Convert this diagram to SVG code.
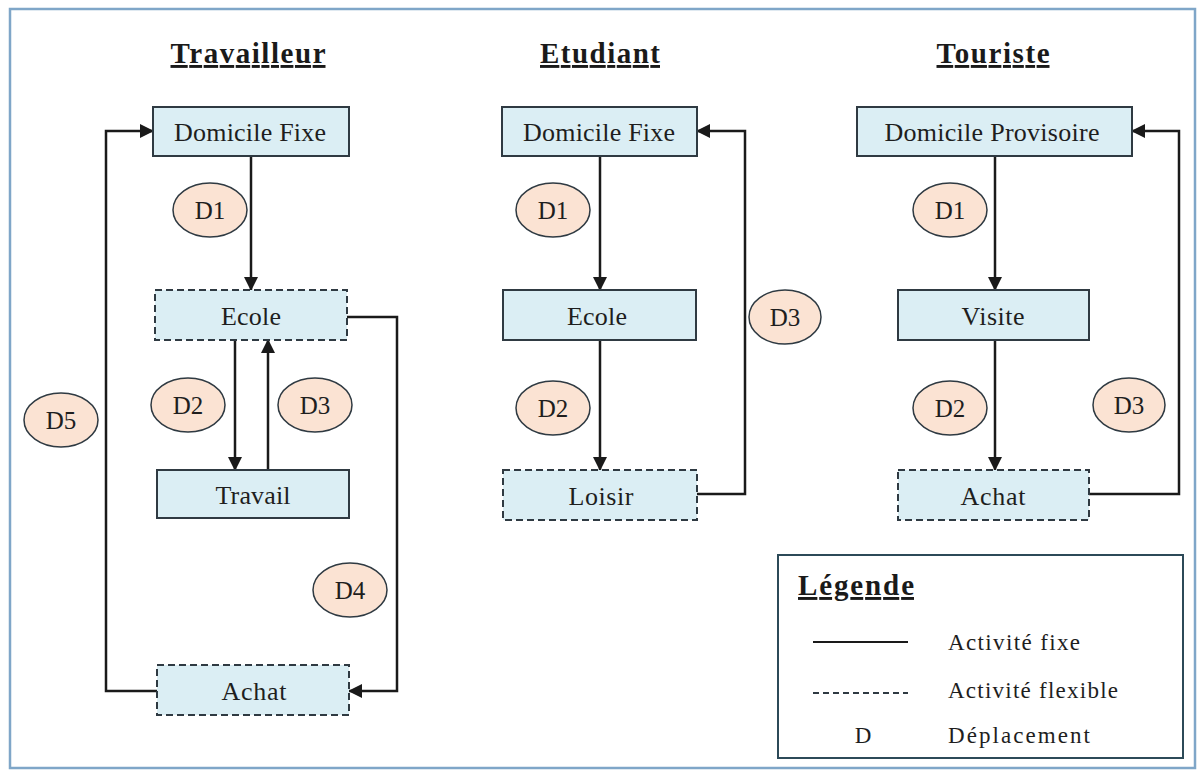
<svg xmlns="http://www.w3.org/2000/svg" width="1203" height="778" viewBox="0 0 1203 778">
<style>
.frame{fill:#ffffff;stroke:#7fa6c8;stroke-width:2.5}
.box{fill:#dbeef4;stroke:#2f3a42;stroke-width:2}
.flex{stroke-dasharray:7 4}
.ell{fill:#fbe3d3;stroke:#2f3a42;stroke-width:1.5}
text{font-family:'Liberation Serif','Times New Roman',Times,serif}
.t{font-size:26px;fill:#1e1e1e;text-anchor:middle}
.d{font-size:25px;fill:#1e1e1e;text-anchor:middle}
.title{font-size:29px;font-weight:bold;fill:#1a1a1a;text-anchor:middle;text-decoration:underline}
.lg{font-size:23px;fill:#1e1e1e}
.c{fill:none;stroke:#1a1a1a;stroke-width:2.5;marker-end:url(#arr)}
.legbox{fill:#ffffff;stroke:#2c4a58;stroke-width:2}
</style>
<defs>
<marker id="arr" markerUnits="userSpaceOnUse" markerWidth="14" markerHeight="14" refX="13" refY="7" orient="auto">
<path d="M0,0 L14,7 L0,14 z" fill="#1a1a1a"/>
</marker>
</defs>
<rect x="0" y="0" width="1203" height="778" fill="#ffffff"/>
<rect class="frame" x="10" y="9" width="1185" height="759"/>

<text class="title" x="248" y="63" textLength="155" lengthAdjust="spacing">Travailleur</text>
<text class="title" x="600" y="63" textLength="120" lengthAdjust="spacing">Etudiant</text>
<text class="title" x="993" y="63" textLength="113" lengthAdjust="spacing">Touriste</text>

<g id="connectors">
<path class="c" d="M251,156 V290"/>
<path class="c" d="M235,340 V470"/>
<path class="c" d="M268,470 V340"/>
<path class="c" d="M347,317 H397 V691 H349"/>
<path class="c" d="M157,691 H106 V131 H153"/>
<path class="c" d="M600,156 V290"/>
<path class="c" d="M600,340 V470"/>
<path class="c" d="M697,494 H745 V131 H697"/>
<path class="c" d="M995,156 V290"/>
<path class="c" d="M995,340 V470"/>
<path class="c" d="M1089,494 H1179 V131 H1132"/>
</g>

<g id="trav-domicile"><rect class="box" x="153" y="107" width="196" height="49"/><text class="t" x="250" y="141" textLength="152" lengthAdjust="spacing">Domicile Fixe</text></g>
<g id="trav-ecole"><rect class="box flex" x="155" y="290" width="192" height="50"/><text class="t" x="251" y="325" textLength="60" lengthAdjust="spacing">Ecole</text></g>
<g id="trav-travail"><rect class="box" x="157" y="470" width="192" height="48"/><text class="t" x="253" y="504" textLength="75" lengthAdjust="spacing">Travail</text></g>
<g id="trav-achat"><rect class="box flex" x="157" y="665" width="192" height="50"/><text class="t" x="254" y="700" textLength="65" lengthAdjust="spacing">Achat</text></g>
<g id="trav-d1"><ellipse class="ell" cx="210" cy="210" rx="37" ry="27"/><text class="d" x="210" y="219">D1</text></g>
<g id="trav-d2"><ellipse class="ell" cx="188" cy="405" rx="37" ry="27"/><text class="d" x="188" y="414">D2</text></g>
<g id="trav-d3"><ellipse class="ell" cx="315" cy="405" rx="37" ry="27"/><text class="d" x="315" y="414">D3</text></g>
<g id="trav-d4"><ellipse class="ell" cx="350" cy="590" rx="37" ry="27"/><text class="d" x="350" y="599">D4</text></g>
<g id="trav-d5"><ellipse class="ell" cx="61" cy="420" rx="37" ry="27"/><text class="d" x="61" y="429">D5</text></g>

<g id="etu-domicile"><rect class="box" x="502" y="107" width="195" height="49"/><text class="t" x="599" y="141" textLength="152" lengthAdjust="spacing">Domicile Fixe</text></g>
<g id="etu-ecole"><rect class="box" x="503" y="290" width="193" height="50"/><text class="t" x="597" y="325" textLength="60" lengthAdjust="spacing">Ecole</text></g>
<g id="etu-loisir"><rect class="box flex" x="503" y="470" width="194" height="50"/><text class="t" x="601" y="505" textLength="65" lengthAdjust="spacing">Loisir</text></g>
<g id="etu-d1"><ellipse class="ell" cx="553" cy="210" rx="37" ry="27"/><text class="d" x="553" y="219">D1</text></g>
<g id="etu-d2"><ellipse class="ell" cx="553" cy="408" rx="37" ry="27"/><text class="d" x="553" y="417">D2</text></g>
<g id="etu-d3"><ellipse class="ell" cx="785" cy="317" rx="36" ry="27"/><text class="d" x="785" y="326">D3</text></g>

<g id="tou-domicile"><rect class="box" x="857" y="107" width="275" height="49"/><text class="t" x="992" y="141" textLength="215" lengthAdjust="spacing">Domicile Provisoire</text></g>
<g id="tou-visite"><rect class="box" x="898" y="290" width="191" height="50"/><text class="t" x="993" y="325" textLength="63" lengthAdjust="spacing">Visite</text></g>
<g id="tou-achat"><rect class="box flex" x="898" y="470" width="191" height="50"/><text class="t" x="993" y="505" textLength="65" lengthAdjust="spacing">Achat</text></g>
<g id="tou-d1"><ellipse class="ell" cx="950" cy="210" rx="37" ry="27"/><text class="d" x="950" y="219">D1</text></g>
<g id="tou-d2"><ellipse class="ell" cx="950" cy="408" rx="37" ry="27"/><text class="d" x="950" y="417">D2</text></g>
<g id="tou-d3"><ellipse class="ell" cx="1129" cy="405" rx="36" ry="27"/><text class="d" x="1129" y="414">D3</text></g>

<g id="legend">
<rect class="legbox" x="778" y="555" width="405" height="203"/>
<text class="title" x="856" y="595" textLength="116" lengthAdjust="spacing">Légende</text>
<line x1="813" y1="642" x2="908" y2="642" stroke="#1a1a1a" stroke-width="2"/>
<text class="lg" x="948" y="650" textLength="132" lengthAdjust="spacing">Activité fixe</text>
<line x1="813" y1="693" x2="908" y2="693" stroke="#2f3a42" stroke-width="2" stroke-dasharray="6 4"/>
<text class="lg" x="948" y="698" textLength="170" lengthAdjust="spacing">Activité flexible</text>
<text class="lg" x="863" y="743" text-anchor="middle">D</text>
<text class="lg" x="948" y="743" textLength="142" lengthAdjust="spacing">Déplacement</text>
</g>
</svg>
